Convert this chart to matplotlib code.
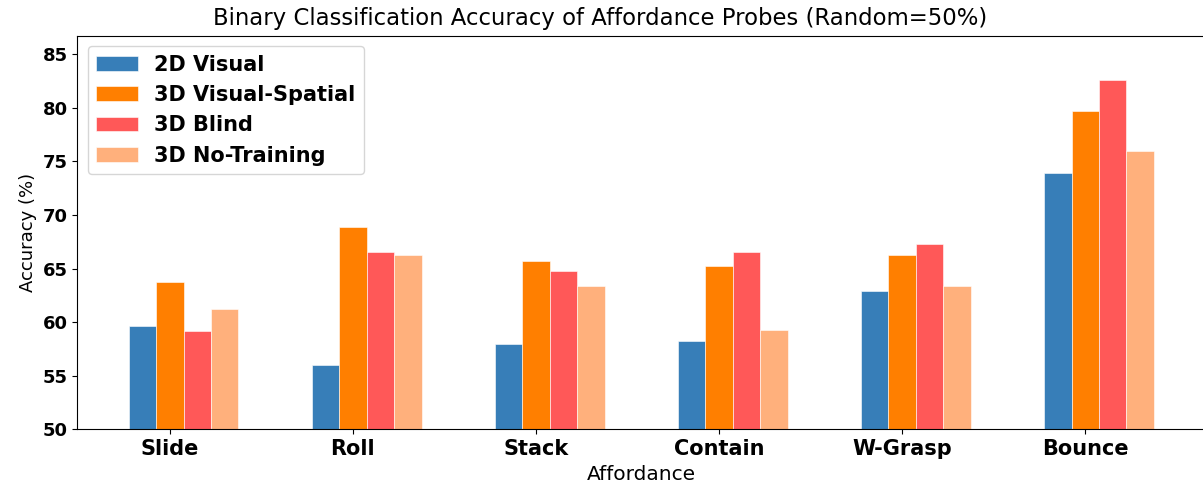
import numpy as np
import matplotlib
matplotlib.use('Agg')
import matplotlib.pyplot as plt

affordances = ['Slide', 'Roll', 'Stack', 'Contain', 'W-Grasp', 'Bounce']
series_names = ['2D Visual', '3D Visual-Spatial', '3D Blind', '3D No-Training']
visual_2d = [59.6, 56.0, 58.0, 58.2, 62.9, 73.9]
visual_spatial_3d = [63.75, 68.9, 65.75, 65.25, 66.3, 79.7]
blind_3d = [59.2, 66.55, 64.75, 66.55, 67.3, 82.6]
no_training_3d = [61.25, 66.3, 63.4, 59.3, 63.4, 76.0]
colors = ['#377eb8', '#ff7f00', '#ff5858', '#ffb07c']

all_series = [visual_2d, visual_spatial_3d, blind_3d, no_training_3d]

fig = plt.figure(figsize=(12.03, 4.84), dpi=100)
# right edge of the axes sits just past the picture, as in the original crop
ax = fig.add_axes([0.0643, 0.113, 0.9375, 0.813])

x = np.arange(len(affordances))
width = 0.15
for i, (vals, name, c) in enumerate(zip(all_series, series_names, colors)):
    ax.bar(x + (i - 1) * width, vals, width, label=name, color=c,
           edgecolor='white', linewidth=0.4)

ax.set_ylim(50, max(blind_3d) * 1.05)
ax.set_xticks(x)
ax.set_xticklabels(affordances, fontsize=15, fontweight='bold')
ax.tick_params(axis='y', labelsize=13)
for lbl in ax.get_yticklabels():
    lbl.set_fontweight('bold')

ax.set_xlabel('Affordance', fontsize=14.5)
ax.set_ylabel('Accuracy (%)', fontsize=13)
fig.text(600 / 1203, 1 - 18 / 484,
         'Binary Classification Accuracy of Affordance Probes (Random=50%)',
         ha='center', va='center', fontsize=16.4)
ax.legend(loc='upper left', prop={'weight': 'bold', 'size': 15})

fig.savefig('out.png', dpi=100)
